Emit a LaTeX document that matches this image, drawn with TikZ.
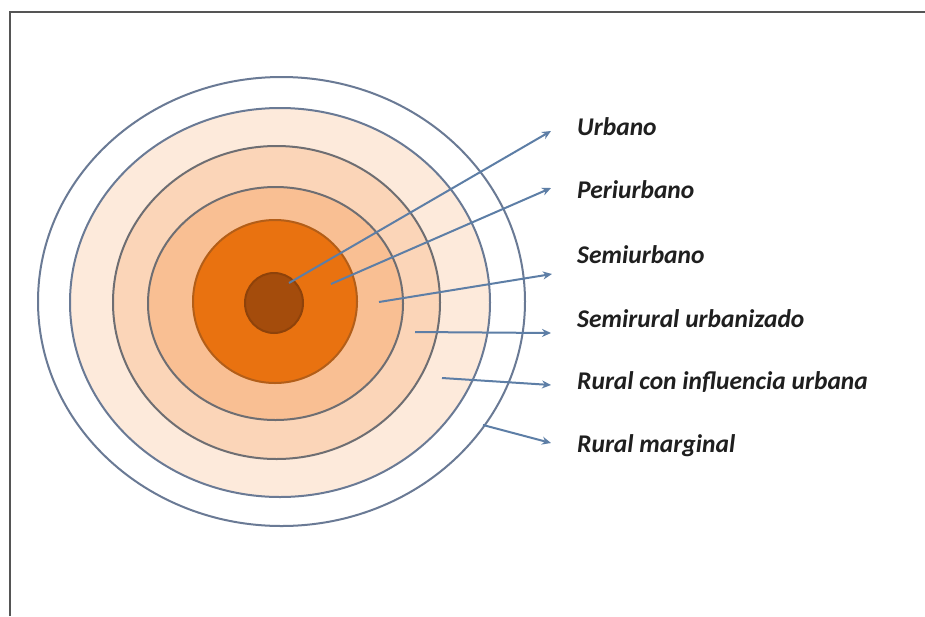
\documentclass[tikz,border=0pt]{standalone}
\usepackage{fontspec}
\setmainfont{Carlito}
\usetikzlibrary{arrows.meta}
\definecolor{frameC}{HTML}{555555}
\definecolor{ringA}{HTML}{FFFFFF}
\definecolor{ringB}{HTML}{FDEADB}
\definecolor{ringC}{HTML}{FBD5B8}
\definecolor{ringD}{HTML}{F9BF93}
\definecolor{ringE}{HTML}{E97210}
\definecolor{coreC}{HTML}{A44C0C}
\definecolor{edgeBlue}{HTML}{6A7A95}
\definecolor{edgeGray}{HTML}{6E6E72}
\definecolor{edgeOr}{HTML}{B35E18}
\definecolor{edgeCore}{HTML}{8E420A}
\definecolor{arrowC}{HTML}{5D7EA6}
\tikzset{
  ring/.style={line width=2pt},
  lbl/.style={anchor=base west, inner sep=0pt, font=\fontsize{25.5}{28}\selectfont\bfseries\itshape, text=black!88},
  pointer/.style={draw=arrowC, line width=2pt, -{Stealth[length=9pt,width=8pt]}}
}
\begin{document}
\begin{tikzpicture}[x=1pt,y=-1pt]
\useasboundingbox (0,0) rectangle (925,616);
\fill[white] (0,0) rectangle (925,616);
% frame (top and left edges)
\draw[frameC, line width=2.5pt] (10,616) -- (10,12) -- (925,12);
% rings
\filldraw[ring, fill=ringA, draw=edgeBlue] (281.5,301.5) ellipse [x radius=243.5, y radius=224.5];
\filldraw[ring, fill=ringB, draw=edgeBlue] (280,302.5) ellipse [x radius=210, y radius=194.5];
\filldraw[ring, fill=ringC, draw=edgeGray] (276.5,302.5) ellipse [x radius=163.5, y radius=156.5];
\filldraw[ring, fill=ringD, draw=edgeGray] (275.5,303.5) ellipse [x radius=127.5, y radius=116.5];
\filldraw[ring, fill=ringE, draw=edgeOr] (275,301.5) ellipse [x radius=82, y radius=81.5];
\filldraw[ring, fill=coreC, draw=edgeCore] (274,303) ellipse [x radius=29, y radius=30];
% labels
\node[lbl] (l1) at (577,135) {Urbano};
\node[lbl] (l2) at (577,198) {Periurbano};
\node[lbl] (l3) at (577,263) {Semiurbano};
\node[lbl] (l4) at (577,327) {Semirural urbanizado};
\node[lbl] (l5) at (577,389) {Rural con influencia urbana};
\node[lbl] (l6) at (577,452) {Rural marginal};
% pointer start and end points
\coordinate (s1) at (289,283);
\coordinate (e1) at (551,131);
\coordinate (s2) at (331,284);
\coordinate (e2) at (551,188);
\coordinate (s3) at (379,302);
\coordinate (e3) at (552,274);
\coordinate (s4) at (415,332);
\coordinate (e4) at (551,333);
\coordinate (s5) at (442,378);
\coordinate (e5) at (551,385);
\coordinate (s6) at (483,425);
\coordinate (e6) at (551,443);
\draw[pointer] (s1) -- (e1);
\draw[pointer] (s2) -- (e2);
\draw[pointer] (s3) -- (e3);
\draw[pointer] (s4) -- (e4);
\draw[pointer] (s5) -- (e5);
\draw[pointer] (s6) -- (e6);
\end{tikzpicture}
\end{document}
